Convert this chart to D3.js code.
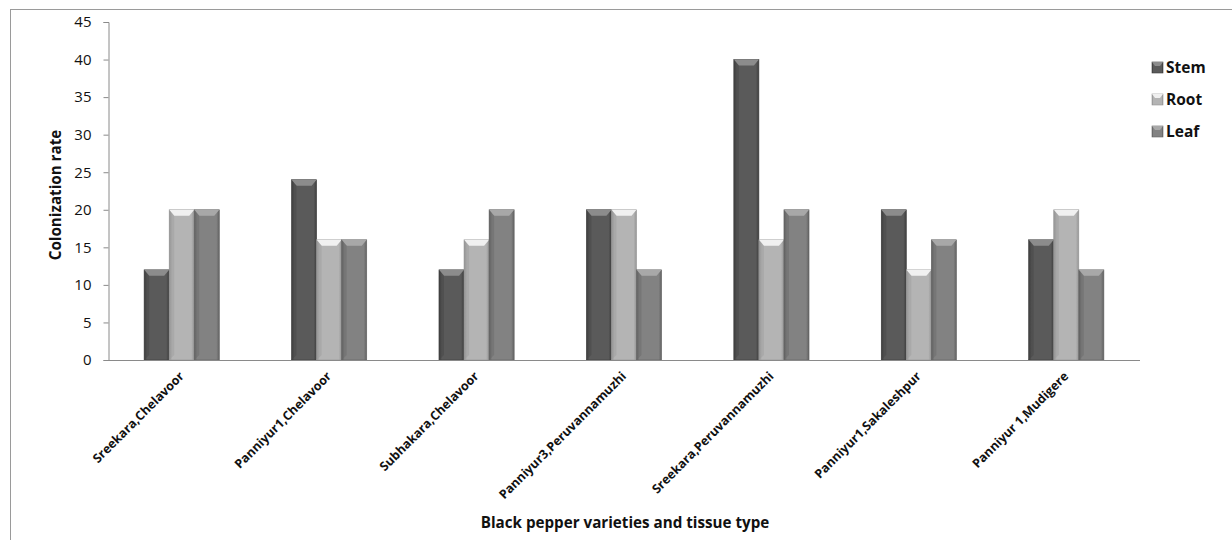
<!DOCTYPE html>
<html><head><meta charset="utf-8">
<script src="https://cdn.jsdelivr.net/npm/d3@7"></script>
<style>body{margin:0;background:#fff;}svg{display:block;}</style>
</head><body>
<script>
const categories = ["Sreekara,Chelavoor","Panniyur1,Chelavoor","Subhakara,Chelavoor","Panniyur3,Peruvannamuzhi","Sreekara,Peruvannamuzhi","Panniyur1,Sakaleshpur","Panniyur 1,Mudigere"];
const seriesNames = ["Stem","Root","Leaf"];
const stem = [12,24,12,20,40,20,16];
const root = [20,16,16,20,16,12,20];
const leaf = [20,16,20,12,20,16,12];
const yTicks = [0,5,10,15,20,25,30,35,40,45];

const seriesValues = [stem, root, leaf];
const palette = [
  {body:"#5a5a5a", edge:"#3e3e3e", top:"#8c8c8c"},
  {body:"#b4b4b4", edge:"#959595", top:"#f0f0f0"},
  {body:"#828282", edge:"#626262", top:"#a8a8a8"}
];

const W=1232,H=540;
const svg=d3.select("body").append("svg").attr("width",W).attr("height",H);
const defs=svg.append("defs");
palette.forEach((p,i)=>{
  const g=defs.append("linearGradient").attr("id","g"+i).attr("x1","0").attr("x2","1").attr("y1","0").attr("y2","0");
  g.append("stop").attr("offset","0").attr("stop-color",p.edge);
  g.append("stop").attr("offset","0.12").attr("stop-color",p.body);
  g.append("stop").attr("offset","0.88").attr("stop-color",p.body);
  g.append("stop").attr("offset","1").attr("stop-color",p.edge);
});

// outer frame
svg.append("rect").attr("x",10.5).attr("y",9.5).attr("width",1240).attr("height",560)
  .attr("fill","none").attr("stroke","#9a9a9a").attr("stroke-width",1);

const x0=108,x1=1140,yTop=22,yBot=360;
const x=d3.scaleBand().domain(categories).range([x0,x1]).paddingInner(0.49).paddingOuter(0.245);
const y=d3.scaleLinear().domain([0,45]).range([yBot,yTop]);
const xs=d3.scaleBand().domain(seriesNames).range([0,x.bandwidth()]).padding(0);

// y axis
const ya=svg.append("g").attr("transform",`translate(${x0+0.5},0)`)
  .call(d3.axisLeft(y).tickValues(yTicks).tickSize(5).tickPadding(12).tickFormat(d3.format("d")));
ya.select(".domain").attr("stroke","#8a8a8a");
ya.selectAll(".tick line").attr("stroke","#8a8a8a");
ya.selectAll(".tick text").attr("font-family","'Open Sans', sans-serif").attr("font-size",15).attr("fill","#111");

// bars
const groups=svg.append("g").selectAll("g").data(categories).join("g")
  .attr("transform",d=>`translate(${x(d)},0)`);
groups.each(function(cat,ci){
  const g=d3.select(this);
  seriesNames.forEach((s,si)=>{
    const v=seriesValues[si][ci];
    const bx=xs(s), bw=xs.bandwidth(), by=y(v), bh=y(0)-y(v);
    const p=palette[si];
    g.append("rect").attr("x",bx).attr("y",by).attr("width",bw).attr("height",bh)
      .attr("fill",`url(#g${si})`).attr("stroke",p.edge).attr("stroke-width",0.6);
    const b=5;
    g.append("path").attr("d",`M${bx},${by}L${bx+bw},${by}L${bx+bw-b},${by+b+1}L${bx+b},${by+b+1}Z`)
      .attr("fill",p.top);
    g.append("path").attr("d",`M${bx},${by}L${bx+b},${by+b+1}L${bx+b},${by+bh-b}L${bx},${by+bh}Z`)
      .attr("fill",p.edge).attr("opacity",0.35);
  });
});

// x axis line
svg.append("line").attr("x1",x0).attr("x2",x1).attr("y1",yBot+0.5).attr("y2",yBot+0.5)
  .attr("stroke","#8a8a8a");

// x tick labels
svg.append("g").selectAll("text").data(categories).join("text")
  .attr("transform",d=>`translate(${x(d)+x.bandwidth()/2+3},${yBot+17}) rotate(-45)`)
  .attr("text-anchor","end").attr("font-family","'Open Sans', sans-serif").attr("font-weight","bold")
  .attr("font-size",12.5).attr("fill","#111").text(d=>d);

// axis titles
svg.append("text").attr("transform",`translate(61,${(yTop+yBot)/2+4}) rotate(-90)`)
  .attr("text-anchor","middle").attr("font-family","'Open Sans', sans-serif").attr("font-weight","bold")
  .attr("font-size",15.2).attr("fill","#111").text("Colonization rate");
svg.append("text").attr("x",(x0+x1)/2+1).attr("y",528)
  .attr("text-anchor","middle").attr("font-family","'Open Sans', sans-serif").attr("font-weight","bold")
  .attr("font-size",15.2).attr("fill","#111").text("Black pepper varieties and tissue type");

// legend
const lg=svg.append("g").selectAll("g").data(seriesNames).join("g")
  .attr("transform",(d,i)=>`translate(1152,${67+i*32})`);
lg.append("rect").attr("x",0).attr("y",-5).attr("width",11).attr("height",11)
  .attr("fill",(d,i)=>`url(#g${i})`).attr("stroke",(d,i)=>palette[i].edge).attr("stroke-width",0.6);
lg.append("path").attr("d","M0,-5L11,-5L8,-1L3,-1Z").attr("fill",(d,i)=>palette[i].top);
lg.append("text").attr("x",14).attr("y",5.5).attr("font-family","'Open Sans', sans-serif")
  .attr("font-weight","bold").attr("font-size",15.5).attr("fill","#111").text(d=>d);
</script>
</body></html>
